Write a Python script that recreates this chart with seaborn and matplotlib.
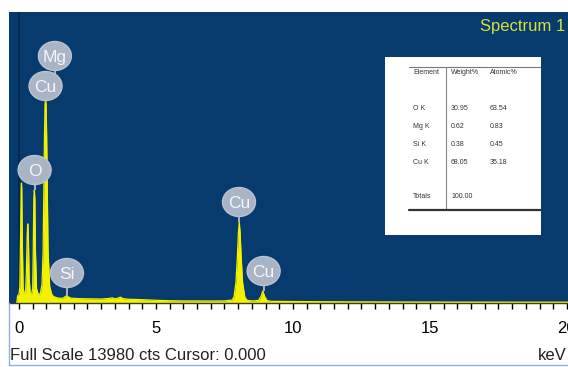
import numpy as np
import pandas as pd
import matplotlib
matplotlib.use("Agg")
import matplotlib.pyplot as plt
from matplotlib.patches import Ellipse
import seaborn as sns

# ---- spectrum outline (energy in keV, counts) ----
energy = [-0.08, -0.05, 0.00, 0.03, 0.06, 0.08, 0.09, 0.10, 0.12, 0.15,
          0.19, 0.24, 0.27, 0.30, 0.32, 0.34, 0.37, 0.41, 0.46, 0.50,
          0.52, 0.54, 0.56, 0.58, 0.60, 0.64, 0.70, 0.78, 0.84, 0.88,
          0.93, 0.95, 0.97, 0.99, 1.01, 1.06, 1.12, 1.20, 1.28, 1.36,
          1.48, 1.60, 1.68, 1.74, 1.80, 1.90, 2.2, 2.6, 3.0, 3.3,
          3.4, 3.5, 3.6, 3.7, 3.8, 4.0, 4.5, 5.0, 5.5, 6.0,
          6.5, 7.0, 7.5, 7.78, 7.85, 7.92, 7.97, 8.01, 8.04, 8.07,
          8.11, 8.16, 8.24, 8.32, 8.45, 8.60, 8.75, 8.84, 8.90, 8.96,
          9.05, 9.20, 10.0, 12.0, 15.0, 18.0, 20.1]
counts = [0, 350, 420, 800, 3500, 5500, 5760, 5500, 3000, 700,
          480, 520, 1500, 3300, 3800, 3300, 1200, 450, 430, 700,
          2500, 5000, 5430, 5000, 2500, 700, 420, 450, 900, 2500,
          8000, 9500, 9750, 9500, 8000, 2500, 800, 400, 300, 260,
          230, 230, 300, 360, 290, 230, 210, 200, 190, 220,
          250, 200, 230, 280, 210, 180, 160, 130, 110, 100,
          100, 95, 100, 140, 300, 1000, 2200, 3400, 3890, 3400,
          2200, 1000, 300, 130, 105, 100, 130, 330, 580, 330,
          120, 80, 70, 55, 45, 40, 40]

# ---- peak labels: name, bubble centre, end of stem ----
label_names = ["Mg", "Cu", "O", "Si", "Cu", "Cu"]
label_x = [1.31, 0.97, 0.57, 1.75, 8.03, 8.93]
label_y = [11866, 10425, 6389, 1441, 4852, 1537]
stem_end_y = [11000, 9750, 5430, 360, 3890, 580]

# ---- quantification table ----
table_header = ["Element", "Weight%", "Atomic%"]
table_elements = ["O K", "Mg K", "Si K", "Cu K"]
table_weight = [30.95, 0.62, 0.38, 68.05]
table_atomic = [63.54, 0.83, 0.45, 35.18]
table_total = 100.00

full_scale = 13980
x_ticks = np.arange(0, 20.01, 0.5)
x_labels = ["0", "5", "10", "15", "20"]

sns.set_style("white")
plt.rcParams["font.family"] = ["Liberation Sans", "DejaVu Sans"]

W, H = 568, 367
fig = plt.figure(figsize=(W / 100, H / 100), dpi=100, facecolor="white")

def fx(px):
    return px / W

def fy(py):
    return 1 - py / H

panel_color = "#073a6d"
yellow = "#f2f200"
bubble_color = "#a9b4c5"

ax = fig.add_axes([fx(9), fy(303), fx(568) - fx(9), fy(12) - fy(303)])
ax.set_facecolor(panel_color)

spec = pd.DataFrame({"energy": energy, "counts": counts})
ax.fill_between(spec["energy"], 0, spec["counts"], color=yellow, lw=0, zorder=2)
sns.lineplot(data=spec, x="energy", y="counts", ax=ax, color=yellow,
             lw=0.9, zorder=3, estimator=None, sort=False)

# cursor line
ax.axvline(0, color="#04264a", lw=1.2, zorder=1)

ax.set_xlim(-0.365, 20.04)
ax.set_ylim(0, full_scale)
ax.set_xlabel("")
ax.set_ylabel("")
ax.set_yticks([])
ax.set_xticks(x_ticks)
ax.set_xticklabels([x_labels[int(t // 5)] if t % 5 == 0 else "" for t in x_ticks],
                   fontsize=12)
ax.tick_params(axis="x", direction="out", length=4, width=1, color="black",
               pad=9, labelcolor="black", bottom=True)
for side in ["top", "left", "right"]:
    ax.spines[side].set_visible(False)
ax.spines["bottom"].set_color("#3d3d1e")
ax.spines["bottom"].set_linewidth(1)

# bubble labels with stems
px_per_kev = 27.4
cts_per_px = full_scale / 291
bw = 33 / px_per_kev
bh = 29 * cts_per_px
for name, x, y, ye in zip(label_names, label_x, label_y, stem_end_y):
    ax.plot([x, x], [y, ye], color=bubble_color, lw=1.4, zorder=4,
            solid_capstyle="butt")
    ax.add_patch(Ellipse((x, y), bw, bh, facecolor=bubble_color,
                         edgecolor="#b9c3d1", lw=1.0, zorder=5))
    ax.text(x, y, name, ha="center", va="center_baseline", fontsize=12.5,
            color="#f4f6fa", zorder=6)

# title in the panel corner
fig.text(fx(565), fy(26), "Spectrum 1", ha="right", va="center",
         fontsize=12, color="#d4e23a")

# bottom status line
fig.text(fx(10), fy(356), "Full Scale 13980 cts Cursor: 0.000", ha="left",
         va="center", fontsize=12, color="#222222")
fig.text(fx(567), fy(356), "keV", ha="right", va="center", fontsize=12,
         color="#222222")

# thin frame around the lower strip
fig.add_artist(plt.Line2D([fx(9), fx(9)], [fy(303), fy(365)],
                          color="#8fb0da", lw=1))
fig.add_artist(plt.Line2D([fx(9), fx(568)], [fy(365), fy(365)],
                          color="#8fb0da", lw=1))

# quantification table drawn in pixel units
tab = fig.add_axes([fx(385), fy(235), fx(541) - fx(385), fy(57) - fy(235)])
tab.set_xlim(385, 541)
tab.set_ylim(235, 57)
tab.set_facecolor("white")
tab.set_xticks([])
tab.set_yticks([])
for s in tab.spines.values():
    s.set_visible(False)

col_x = [413, 451, 490]
txt_kw = dict(fontsize=5, color="#333333", va="center", ha="left")
tab.plot([409, 541], [67, 67], color="#777777", lw=0.8)
tab.plot([446, 446], [67, 210], color="#888888", lw=0.8)
tab.plot([409, 541], [210, 210], color="#333333", lw=1.6)
for cx, h in zip(col_x, table_header):
    tab.text(cx, 73, h, **txt_kw)
row_y = [108, 126, 144, 162]
for ry, el, wt, at in zip(row_y, table_elements, table_weight, table_atomic):
    tab.text(col_x[0], ry, el, **txt_kw)
    tab.text(col_x[1], ry, f"{wt:.2f}", **txt_kw)
    tab.text(col_x[2], ry, f"{at:.2f}", **txt_kw)
tab.text(col_x[0], 197, "Totals", **txt_kw)
tab.text(col_x[1], 197, f"{table_total:.2f}", **txt_kw)

fig.savefig("out.png", dpi=100, facecolor="white")
